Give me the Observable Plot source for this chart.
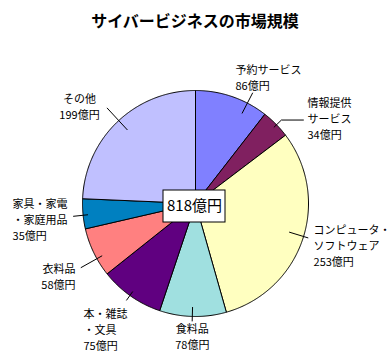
<!DOCTYPE html>
<html><head><meta charset="utf-8">
<script src="https://cdn.jsdelivr.net/npm/d3@7"></script>
<script src="https://cdn.jsdelivr.net/npm/@observablehq/plot@0.6"></script>
<style>
body{margin:0;background:#fff;width:390px;height:360px;overflow:hidden;font-family:"Noto Sans CJK JP",sans-serif;}
#title{height:40px;line-height:40px;text-align:center;font-weight:bold;font-size:16px;color:#000;}
</style></head><body>
<div id="title"></div>
<div id="chart"></div>
<script>
const title = "サイバービジネスの市場規模";
const categories = ["予約サービス","情報提供サービス","コンピュータ・ソフトウェア","食料品","本・雑誌・文具","衣料品","家具・家電・家庭用品","その他"];
const labelLines = [["予約サービス"],["情報提供","サービス"],["コンピュータ・","ソフトウェア"],["食料品"],["本・雑誌","・文具"],["衣料品"],["家具・家電","・家庭用品"],["その他"]];
const values = [86, 34, 253, 78, 75, 58, 35, 199];
const colors = ["#8080FF","#802060","#FFFFC0","#A0E0E0","#600080","#FF8080","#0080C0","#C0C0FF"];
const unit = "億円";

// ---- layout (not data) ----
const W = 390, H = 320, CX = 195, CY = 163, R = 113;
// da/k: text anchor in polar terms relative to slice mid-angle; lda,rIn,rOut,ext: leader line
const labelLayout = [
  {da:-3.1, k:1.297, anchor:"start",  lda:8.4,  rIn:0.90, rOut:1.10, ext:0},
  {da:0.7,  k:1.377, anchor:"start",  lda:0.5,  rIn:0.97, rOut:1.06, ext:22},
  {da:-9.4, k:1.058, anchor:"start",  lda:-1.5, rIn:0.87, rOut:1.04, ext:0},
  {da:0.2,  k:1.044, anchor:"middle", lda:0.3,  rIn:0.92, rOut:1.04, ext:0},
  {da:12.4, k:1.347, anchor:"start",  lda:0.5,  rIn:0.96, rOut:1.05, ext:0},
  {da:-0.1, k:1.18,  anchor:"end",    lda:-3.5, rIn:0.95, rOut:1.16, ext:0},
  {da:7.5,  k:1.62,  anchor:"start",  lda:-0.7, rIn:0.96, rOut:1.085, ext:0},
  {da:-2.2, k:1.427, anchor:"middle", lda:1.0,  rIn:0.89, rOut:1.15, ext:0}
];
const centerBox = {x1:-32, x2:30, y1:-13, y2:19};

document.getElementById("title").textContent = title;

const deg = Math.PI / 180;
const polar = (a, r) => ({x: r * Math.sin(a), y: -r * Math.cos(a)});
const arcs = d3.pie().sort(null).value(d => d)(values);

const slicePts = [];
arcs.forEach((a, i) => {
  const n = Math.max(2, Math.ceil((a.endAngle - a.startAngle) / (0.5 * deg)));
  slicePts.push({i, x: 0, y: 0, color: colors[i]});
  for (let j = 0; j <= n; j++) {
    const t = a.startAngle + (a.endAngle - a.startAngle) * j / n;
    slicePts.push({i, ...polar(t, R), color: colors[i]});
  }
  slicePts.push({i, x: 0, y: 0, color: colors[i]});
});

const leaderPts = [];
const labels = [];
arcs.forEach((a, i) => {
  const L = labelLayout[i];
  const mid = (a.startAngle + a.endAngle) / 2;
  const la = mid + L.lda * deg;
  const p1 = polar(la, L.rIn * R), p2 = polar(la, L.rOut * R);
  leaderPts.push({i, ...p1}, {i, ...p2});
  if (L.ext) leaderPts.push({i, x: p2.x + L.ext, y: p2.y});
  const tp = polar(mid + L.da * deg, L.k * R);
  labels.push({...tp, anchor: L.anchor, text: [...labelLines[i], `${values[i]}${unit}`].join("\n")});
});

const total = d3.sum(values);
const textOpts = (anchor) => ({x: "x", y: "y", text: "text", textAnchor: anchor, lineAnchor: "top", fontSize: 11, lineHeight: 1.45, fill: "#000"});

const chart = Plot.plot({
  width: W, height: H, margin: 0,
  x: {domain: [-CX, W - CX], range: [0, W], axis: null},
  y: {domain: [-CY, H - CY], range: [0, H], axis: null},
  color: {type: "identity"},
  style: {fontFamily: '"Noto Sans CJK JP", sans-serif', background: "#fff", overflow: "visible"},
  marks: [
    Plot.line(slicePts, {x: "x", y: "y", z: "i", fill: "color", stroke: "#000", strokeWidth: 1, curve: "linear"}),
    Plot.line(leaderPts, {x: "x", y: "y", z: "i", stroke: "#000", strokeWidth: 1}),
    Plot.text(labels.filter(d => d.anchor === "start"), textOpts("start")),
    Plot.text(labels.filter(d => d.anchor === "middle"), textOpts("middle")),
    Plot.text(labels.filter(d => d.anchor === "end"), textOpts("end")),
    Plot.rect([centerBox], {x1: "x1", x2: "x2", y1: "y1", y2: "y2", fill: "#fff", stroke: "#000", strokeWidth: 1}),
    Plot.text([total], {x: (centerBox.x1 + centerBox.x2) / 2, y: (centerBox.y1 + centerBox.y2) / 2, text: d => `${d}${unit}`, fontSize: 15, fill: "#000"})
  ]
});
document.getElementById("chart").appendChild(chart);
</script>
</body></html>
